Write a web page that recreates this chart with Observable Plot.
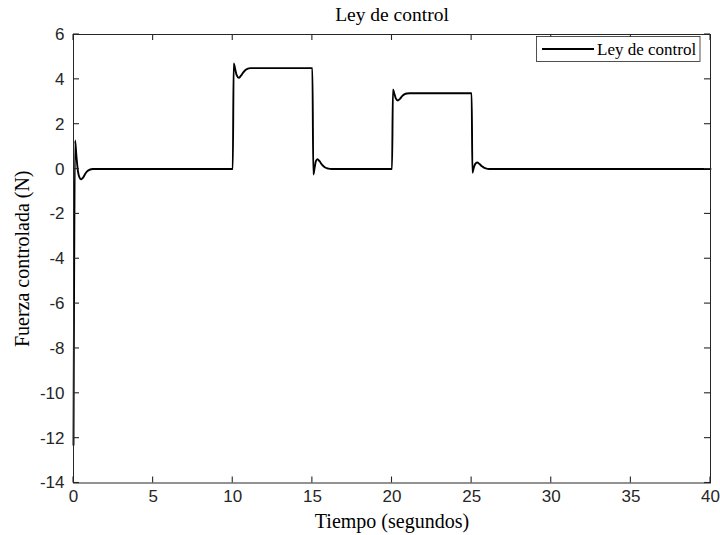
<!DOCTYPE html>
<html>
<head>
<meta charset="utf-8">
<script src="https://cdn.jsdelivr.net/npm/d3@7"></script>
<script src="https://cdn.jsdelivr.net/npm/@observablehq/plot@0.6"></script>
<style>
  body { margin: 0; background: #fff; }
  #chart svg { display: block; }
</style>
</head>
<body>
<div id="chart"></div>
<script>
// Control effort (N) versus time (s)
const time = [
  0, 0.1, 0.18, 0.28, 0.38, 0.48, 0.6, 0.75, 0.9, 1.05, 1.2, 1.5,
  10.0, 10.06, 10.14, 10.24, 10.38, 10.5, 10.65, 10.8, 10.95, 11.1,
  15.0, 15.06, 15.14, 15.22, 15.32, 15.45, 15.6, 15.8, 16.0, 16.2,
  20.0, 20.06, 20.14, 20.24, 20.36, 20.5, 20.65, 20.8, 20.95, 21.1,
  25.0, 25.05, 25.13, 25.22, 25.35, 25.5, 25.65, 25.8, 26.0, 26.2,
  40
];
const force = [
  -12.3, 1.27, 0.6, -0.1, -0.38, -0.46, -0.38, -0.2, -0.08, -0.02, 0, 0,
  0, 4.71, 4.5, 4.2, 4.07, 4.15, 4.3, 4.42, 4.48, 4.5,
  4.5, -0.24, 0.05, 0.35, 0.44, 0.35, 0.2, 0.07, 0.02, 0,
  0, 3.55, 3.38, 3.15, 3.06, 3.13, 3.26, 3.34, 3.37, 3.38,
  3.38, -0.17, 0.05, 0.22, 0.29, 0.22, 0.12, 0.05, 0.01, 0,
  0
];

const xTicks = [0, 5, 10, 15, 20, 25, 30, 35, 40];
const yTicks = [-14, -12, -10, -8, -6, -4, -2, 0, 2, 4, 6];
const seriesName = "Ley de control";
const titleText = "Ley de control";
const xLabel = "Tiempo (segundos)";
const yLabel = "Fuerza controlada (N)";

const data = time.map((t, i) => ({t, f: force[i]}));

const W = 720, H = 535;
const mL = 73, mR = 10, mT = 34, mB = 52.5;
const axisColor = "#262626";
const tickLen = 6;
const serif = "'Liberation Serif', 'DejaVu Serif', serif";
const sans = "'Liberation Sans', Arial, sans-serif";

const chart = Plot.plot({
  width: W,
  height: H,
  marginLeft: mL,
  marginRight: mR,
  marginTop: mT,
  marginBottom: mB,
  style: {fontFamily: sans, fontSize: "17px", color: axisColor, background: "#fff", overflow: "visible"},
  x: {domain: [0, 40], label: null},
  y: {domain: [-14, 6], label: null},
  marks: [
    // tick labels
    Plot.axisX(xTicks, {anchor: "bottom", tickSize: 0, tickPadding: 7, tickFormat: d => String(d), fontSize: 17, fill: axisColor}),
    Plot.axisY(yTicks, {anchor: "left", tickSize: 0, tickPadding: 9, tickFormat: d => String(d), fontSize: 17, fill: axisColor}),
    // signal
    Plot.line(data, {x: "t", y: "f", stroke: "#000", strokeWidth: 1.9, curve: "monotone-x"}),
    Plot.frame({stroke: axisColor, strokeWidth: 1}),
    // title and axis labels
    Plot.text([titleText], {text: d => d, frameAnchor: "top", lineAnchor: "middle", dy: -20, fontFamily: serif, fontSize: 19.5, fill: "#000"}),
    Plot.text([xLabel], {text: d => d, frameAnchor: "bottom", lineAnchor: "middle", dy: 38.5, fontFamily: serif, fontSize: 20, fill: "#000"}),
    Plot.text([yLabel], {text: d => d, frameAnchor: "left", textAnchor: "middle", lineAnchor: "middle", dx: -51, rotate: -90, fontFamily: serif, fontSize: 20, fill: "#000"})
  ]
});

// inward tick marks on all four sides, placed through the plot's own scales
const sx = chart.scale("x"), sy = chart.scale("y");
const frameTop = mT, frameBottom = H - mB;
const frameLeft = mL, frameRight = W - mR;
const svg = d3.select(chart);
const tickGroup = svg.append("g").attr("class", "inner-ticks");
function addTick(x1, y1, x2, y2) {
  tickGroup.append("line")
    .attr("x1", x1).attr("y1", y1).attr("x2", x2).attr("y2", y2)
    .style("stroke", axisColor).style("stroke-width", "1.1px");
}
for (const v of xTicks) {
  const px = sx.apply(v);
  addTick(px, frameBottom, px, frameBottom - tickLen);
  addTick(px, frameTop, px, frameTop + tickLen);
}
for (const v of yTicks) {
  const py = sy.apply(v);
  addTick(frameLeft, py, frameLeft + tickLen, py);
  addTick(frameRight, py, frameRight - tickLen, py);
}

// legend box in the upper-right corner
const lg = svg.append("g").attr("class", "legend");
lg.append("rect")
  .attr("x", 536.5).attr("y", 36.5).attr("width", 163.5).attr("height", 25)
  .attr("fill", "#fff").attr("stroke", axisColor).attr("stroke-width", 0.8);
lg.append("line")
  .attr("x1", 542).attr("x2", 594).attr("y1", 49).attr("y2", 49)
  .attr("stroke", "#000").attr("stroke-width", 1.9);
lg.append("text")
  .attr("x", 597).attr("y", 49).attr("dy", "0.35em")
  .attr("text-anchor", "start")
  .attr("font-family", serif).attr("font-size", 17).attr("fill", "#000")
  .text(seriesName);

document.getElementById("chart").appendChild(chart);
</script>
</body>
</html>
